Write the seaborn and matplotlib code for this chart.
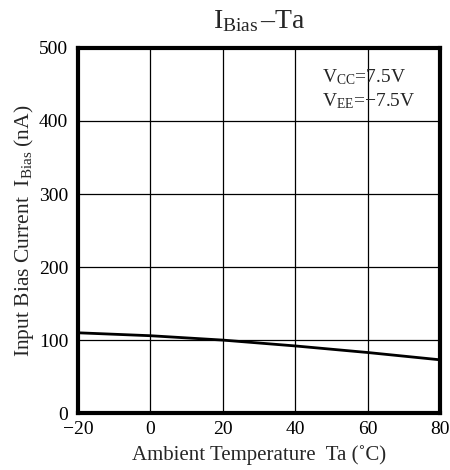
import matplotlib
matplotlib.use("Agg")
import matplotlib.pyplot as plt
import seaborn as sns
import pandas as pd

# Input bias current vs ambient temperature
temp_c = [-20, 0, 20, 40, 60, 80]
ibias_na = [110, 106, 100, 92, 83, 73]

x_ticks = [-20, 0, 20, 40, 60, 80]
y_ticks = [0, 100, 200, 300, 400, 500]

sns.set_style("white")
plt.rcParams['font.family'] = ['Liberation Serif', 'DejaVu Serif']
plt.rcParams['mathtext.fontset'] = 'custom'
plt.rcParams['mathtext.rm'] = 'Liberation Serif'
plt.rcParams['mathtext.it'] = 'Liberation Serif:italic'

df = pd.DataFrame({"Ta": temp_c, "Ibias": ibias_na})

fig = plt.figure(figsize=(4.5, 4.7), dpi=100)
ax = fig.add_axes([0.173, 0.121, 0.805, 0.777])

sns.lineplot(data=df, x="Ta", y="Ibias", color="black", linewidth=2, ax=ax, zorder=3)

ax.set_xlim(-20, 80)
ax.set_ylim(0, 500)
ax.set_xticks(x_ticks)
ax.set_yticks(y_ticks)
ax.set_xticklabels(["\u221220" if t < 0 else str(t) for t in x_ticks])
ax.grid(True, color="black", linewidth=0.9)
for s in ax.spines.values():
    s.set_linewidth(3)
    s.set_color("black")
ax.tick_params(axis="both", labelsize=14, length=0, colors="black")
ax.tick_params(axis="x", pad=6)
ax.tick_params(axis="y", pad=7)

ax.set_xlabel("Ambient Temperature  Ta (\u02daC)", fontsize=15, labelpad=5)
ax.set_ylabel(r"Input Bias Current  I$_{\mathrm{Bias}}$ (nA)", fontsize=15.5, labelpad=2)
ax.set_title(r"I$_{\mathrm{Bias}}$$\,$" + "\u2013Ta", fontsize=20, pad=14)

ax.text(0.675, 0.905, r"V$_{\mathrm{CC}}$=7.5V", transform=ax.transAxes, fontsize=14)
ax.text(0.675, 0.84, r"V$_{\mathrm{EE}}$=" + "\u22127.5V", transform=ax.transAxes, fontsize=14)

plt.savefig("out.png", dpi=100)
